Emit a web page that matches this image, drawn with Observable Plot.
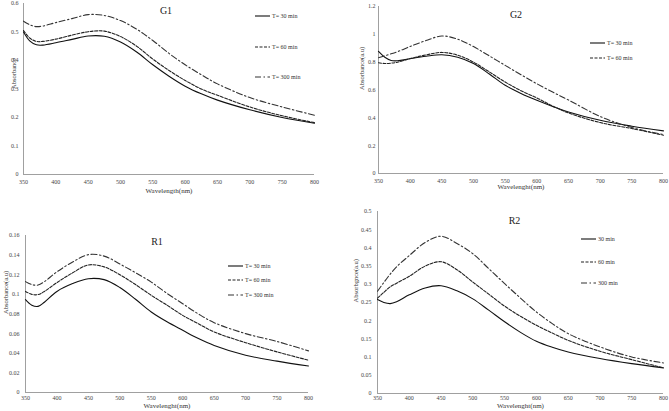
<!DOCTYPE html>
<html>
<head>
<meta charset="utf-8">
<script src="https://cdn.jsdelivr.net/npm/d3@7"></script>
<script src="https://cdn.jsdelivr.net/npm/@observablehq/plot@0.6"></script>
<style>
  body { margin: 0; background: white; }
  #wrap { position: relative; width: 669px; height: 411px; background: white; overflow: hidden; }
  #wrap svg { position: absolute; }
</style>
</head>
<body>
<div id="wrap"></div>
<script>
// Shared wavelength grid (nm)
const wavelength = [350,360,370,380,400,425,450,475,500,525,550,575,600,625,650,700,750,800];
const xTicks = [350,400,450,500,550,600,650,700,750,800];

// G1
const g1_30  = [0.500,0.468,0.455,0.454,0.462,0.474,0.486,0.485,0.465,0.430,0.385,0.345,0.310,0.283,0.261,0.227,0.200,0.180];
const g1_60  = [0.505,0.478,0.467,0.467,0.475,0.489,0.501,0.503,0.484,0.450,0.405,0.365,0.330,0.300,0.278,0.237,0.206,0.182];
const g1_300 = [0.538,0.525,0.519,0.521,0.533,0.547,0.561,0.558,0.540,0.510,0.470,0.425,0.385,0.350,0.318,0.270,0.237,0.208];
const g1_yTicks = [0,0.1,0.2,0.3,0.4,0.5,0.6];

// G2
const g2_30  = [0.877,0.835,0.812,0.810,0.825,0.842,0.853,0.835,0.790,0.715,0.634,0.575,0.526,0.482,0.442,0.382,0.340,0.306];
const g2_60  = [0.796,0.790,0.793,0.800,0.826,0.852,0.870,0.850,0.800,0.730,0.657,0.595,0.543,0.485,0.435,0.366,0.323,0.275];
const g2_300 = [0.832,0.845,0.860,0.875,0.913,0.955,0.988,0.965,0.912,0.845,0.777,0.710,0.645,0.585,0.528,0.410,0.330,0.280];
const g2_yTicks = [0,0.2,0.4,0.6,0.8,1,1.2];

// R1
const r1_30  = [0.0946,0.0890,0.0878,0.0920,0.1030,0.1110,0.1160,0.1150,0.1070,0.0950,0.0820,0.0720,0.0634,0.0550,0.0480,0.0380,0.0320,0.0270];
const r1_60  = [0.1030,0.1000,0.0998,0.1030,0.1120,0.1220,0.1300,0.1280,0.1200,0.1100,0.0990,0.0890,0.0786,0.0700,0.0617,0.0508,0.0414,0.0329];
const r1_300 = [0.1130,0.1100,0.1095,0.1130,0.1230,0.1330,0.1405,0.1390,0.1310,0.1220,0.1125,0.1010,0.0905,0.0800,0.0712,0.0600,0.0520,0.0424];
const r1_yTicks = [0,0.02,0.04,0.06,0.08,0.1,0.12,0.14,0.16];

// R2
const r2_30  = [0.258,0.250,0.247,0.252,0.271,0.290,0.296,0.282,0.260,0.229,0.197,0.168,0.1435,0.127,0.114,0.096,0.082,0.0704];
const r2_60  = [0.262,0.278,0.293,0.303,0.322,0.350,0.362,0.340,0.306,0.273,0.240,0.212,0.1875,0.166,0.146,0.116,0.093,0.0704];
const r2_300 = [0.281,0.305,0.328,0.348,0.379,0.415,0.432,0.412,0.384,0.343,0.302,0.262,0.224,0.192,0.1645,0.128,0.1005,0.084];
const r2_yTicks = [0,0.05,0.1,0.15,0.2,0.25,0.3,0.35,0.4,0.45,0.5];

// Text
const titles = ["G1","G2","R1","R2"];
const yLabels = ["Absorbance","Absorbance(a.u)","Absorbance(a.u)","Absorbgnce(a.u)"];
const xLabels = ["Wavelength(nm)","Wavelenght(nm)","Wavelenght(nm)","Wavelenght(nm)"];
const legendT = ["T= 30 min","T= 60 min","T= 300 min"];
const legendR2 = ["30 min","60 min","300 min"];

const FONT = "'Liberation Serif', 'DejaVu Serif', serif";
const DASHES = [null, "3,1.5", "6,2.5,1.5,2.5"];
const STROKES = ["#111", "#222", "#333"];

function tidy(series) {
  const rows = [];
  series.forEach((vals, k) => {
    wavelength.forEach((w, i) => rows.push({w, a: vals[i], k}));
  });
  return rows;
}

function panel(cfg) {
  const rows = tidy(cfg.series);
  const marks = [
    Plot.ruleY([0], {stroke: "#a0a0a0", strokeWidth: 1}),
    Plot.ruleX([350], {stroke: "#a0a0a0", strokeWidth: 1}),
    Plot.axisY({ticks: cfg.yTicks, tickSize: 0, tickPadding: cfg.yPad, fontSize: 6, tickFormat: d => String(d), label: null, fill: "#444"}),
    Plot.axisX({ticks: xTicks, tickSize: 0, tickPadding: cfg.xPad, fontSize: 6, tickFormat: d => String(d), label: null, fill: "#444"})
  ];
  cfg.series.forEach((s, k) => {
    marks.push(Plot.line(rows.filter(r => r.k === k), {
      x: "w", y: "a", curve: "catmull-rom",
      stroke: STROKES[k], strokeWidth: 1.1,
      strokeDasharray: DASHES[k] || undefined
    }));
  });
  marks.push(Plot.text([cfg.title], {text: d => d, frameAnchor: "top", dx: cfg.tdx, dy: cfg.tdy, fontSize: 10, fill: "#222"}));
  marks.push(Plot.text([cfg.xLabel], {text: d => d, frameAnchor: "bottom", dy: cfg.xdy, fontSize: 7, fill: "#333"}));
  marks.push(Plot.text([cfg.yLabel], {text: d => d, frameAnchor: "left", rotate: -90, dx: cfg.ydx, fontSize: 6.5, fill: "#333"}));
  const svg = Plot.plot({
    width: cfg.w, height: cfg.h,
    marginLeft: cfg.ml, marginRight: cfg.mr, marginTop: cfg.mt, marginBottom: cfg.mb,
    x: {domain: [350, 800]},
    y: {domain: [0, cfg.yTicks[cfg.yTicks.length - 1]]},
    style: {background: "transparent", overflow: "visible", fontFamily: FONT},
    marks
  });
  svg.style.left = cfg.left + "px";
  svg.style.top = cfg.top + "px";
  return svg;
}

const wrap = document.getElementById("wrap");
wrap.appendChild(panel({
  series: [g1_30, g1_60, g1_300], yTicks: g1_yTicks, title: titles[0], xLabel: xLabels[0], yLabel: yLabels[0],
  left: 0, top: 0, w: 335, h: 205, ml: 23, mr: 21, mt: 3, mb: 31,
  yPad: 5, xPad: 5, tdx: -3, tdy: 3, xdy: 18, ydx: -10
}));
wrap.appendChild(panel({
  series: [g2_30, g2_60, g2_300], yTicks: g2_yTicks, title: titles[1], xLabel: xLabels[1], yLabel: yLabels[1],
  left: 335, top: 0, w: 334, h: 205, ml: 43, mr: 6, mt: 6, mb: 32,
  yPad: 3, xPad: 5, tdx: -5, tdy: 4, xdy: 15, ydx: -17
}));
wrap.appendChild(panel({
  series: [r1_30, r1_60, r1_300], yTicks: r1_yTicks, title: titles[2], xLabel: xLabels[2], yLabel: yLabels[2],
  left: 0, top: 205, w: 335, h: 206, ml: 25, mr: 27, mt: 30, mb: 19,
  yPad: 6, xPad: 3, tdx: -10, tdy: 2, xdy: 15, ydx: -20
}));
wrap.appendChild(panel({
  series: [r2_30, r2_60, r2_300], yTicks: r2_yTicks, title: titles[3], xLabel: xLabels[3], yLabel: yLabels[3],
  left: 335, top: 205, w: 334, h: 206, ml: 42, mr: 6, mt: 6, mb: 18,
  yPad: 6, xPad: 2, tdx: -6, tdy: 5, xdy: 14.5, ydx: -22
}));

// Legends (overlay)
const legends = [
  {labels: legendT, x: 255, ys: [16, 47, 77]},
  {labels: legendT.slice(0, 2), x: 590, ys: [43, 58]},
  {labels: legendT, x: 228, ys: [266, 280, 295]},
  {labels: legendR2, x: 581, ys: [239, 262, 283]}
];
const ov = d3.select(wrap).append("svg")
  .attr("width", 669).attr("height", 411)
  .style("left", "0px").style("top", "0px")
  .style("font-family", FONT);
legends.forEach(L => {
  L.labels.forEach((lab, k) => {
    ov.append("line").attr("x1", L.x).attr("x2", L.x + 15).attr("y1", L.ys[k]).attr("y2", L.ys[k])
      .attr("stroke", STROKES[k]).attr("stroke-width", 1.1)
      .attr("stroke-dasharray", DASHES[k]);
    ov.append("text").attr("x", L.x + 17).attr("y", L.ys[k]).attr("dy", "0.32em")
      .attr("font-size", 6).attr("fill", "#333").text(lab);
  });
});
</script>
</body>
</html>
